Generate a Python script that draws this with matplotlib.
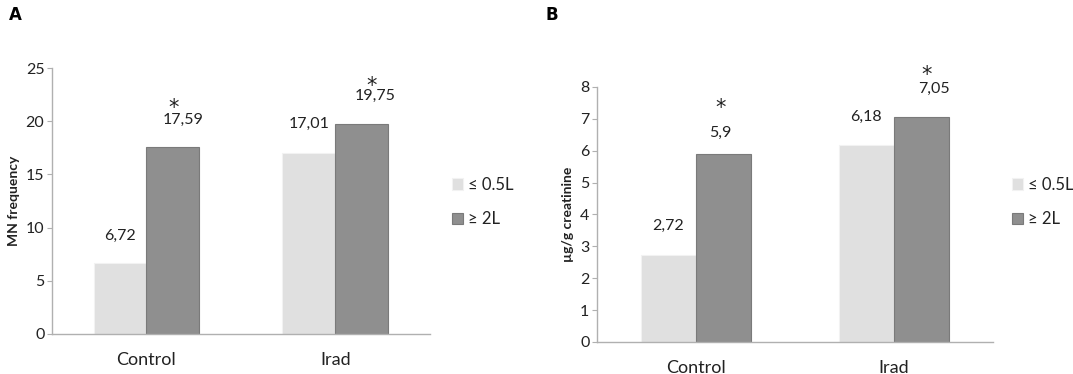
import matplotlib
matplotlib.use("Agg")
import matplotlib.pyplot as plt
import numpy as np

plt.rcParams["font.family"] = ["Lato", "DejaVu Sans"]

categories = ["Control", "Irad"]
series_names = ["\u2264 0.5L", "\u2265 2L"]

mn_low = [6.72, 17.01]
mn_high = [17.59, 19.75]
mn_labels_low = ["6,72", "17,01"]
mn_labels_high = ["17,59", "19,75"]

cr_low = [2.72, 6.18]
cr_high = [5.9, 7.05]
cr_labels_low = ["2,72", "6,18"]
cr_labels_high = ["5,9", "7,05"]

LIGHT = "#e0e0e0"
DARK = "#8f8f8f"
AXIS = "#b0b0b0"
TEXT = "#222222"

fig = plt.figure(figsize=(10.73, 3.74), dpi=100)


def draw_panel(ax, low, high, lab_low, lab_high, ymax, ylabel, style):
    x = np.arange(len(categories))
    w = 0.28
    ax.bar(x - w / 2, low, w, color=LIGHT, edgecolor="#f2f2f2", linewidth=0.8,
           label=series_names[0])
    ax.bar(x + w / 2, high, w, color=DARK, edgecolor="#7a7a7a", linewidth=0.8,
           label=series_names[1])
    for i in range(len(categories)):
        ax.annotate(lab_low[i], (x[i] - w / 2, low[i]), xytext=(0, style["dy_low"][i]),
                    textcoords="offset pixels", ha="center", va="center",
                    fontsize=11.5, color=TEXT)
        ax.annotate(lab_high[i], (x[i] + w / 2, high[i]),
                    xytext=(style["dx_high"][i], style["dy_high"][i]),
                    textcoords="offset pixels", ha="center", va="center",
                    fontsize=11.5, color=TEXT)
        ax.annotate("*", (x[i] + w / 2, high[i]),
                    xytext=(style["dx_star"][i], style["dy_star"][i]),
                    textcoords="offset pixels", ha="center", va="baseline",
                    fontsize=15, color=TEXT, family="DejaVu Sans")
    ax.set_xlim(-0.5, 1.5)
    ax.set_ylim(0, ymax)
    ax.set_xticks(x)
    ax.set_xticklabels(categories, fontsize=13, color=TEXT)
    ax.tick_params(axis="x", length=0, pad=13)
    ax.tick_params(axis="y", length=3.5, color=AXIS, labelsize=11.5, labelcolor=TEXT, pad=2)
    for s in ["top", "right"]:
        ax.spines[s].set_visible(False)
    for s in ["left", "bottom"]:
        ax.spines[s].set_color(AXIS)
        ax.spines[s].set_linewidth(1.0)
    ax.set_ylabel(ylabel, fontsize=10, fontweight="bold", color=TEXT, labelpad=4)


styleA = {"dy_low": [27, 29], "dx_high": [10, 13], "dy_high": [27, 28],
          "dx_star": [1, 10], "dy_star": [33, 32]}
styleB = {"dy_low": [29, 28], "dx_high": [-3, 12], "dy_high": [21, 28],
          "dx_star": [-3, 5], "dy_star": [40, 36]}

axA = fig.add_axes([0.0485, 0.107, 0.352, 0.711])
draw_panel(axA, mn_low, mn_high, mn_labels_low, mn_labels_high, 25, "MN frequency", styleA)
axA.set_yticks(np.arange(0, 26, 5))

axB = fig.add_axes([0.5564, 0.0856, 0.369, 0.6818])
draw_panel(axB, cr_low, cr_high, cr_labels_low, cr_labels_high, 8, "\u00b5g/g creatinine", styleB)
axB.set_yticks(np.arange(0, 9, 1))

for ax, lx in [(axA, 0.4212), (axB, 0.9432)]:
    ax.legend(loc="upper left", bbox_to_anchor=(lx, 0.527), bbox_transform=fig.transFigure,
              frameon=False, fontsize=12, handlelength=0.65, handleheight=0.65,
              handletextpad=0.3, labelspacing=1.1, labelcolor=TEXT,
              borderpad=0, borderaxespad=0)

fig.text(0.008, 0.985, "A", fontsize=12, fontweight="bold", family="DejaVu Sans",
         va="top", ha="left")
fig.text(0.508, 0.985, "B", fontsize=12, fontweight="bold", family="DejaVu Sans",
         va="top", ha="left")

fig.savefig("out.png", dpi=100)
